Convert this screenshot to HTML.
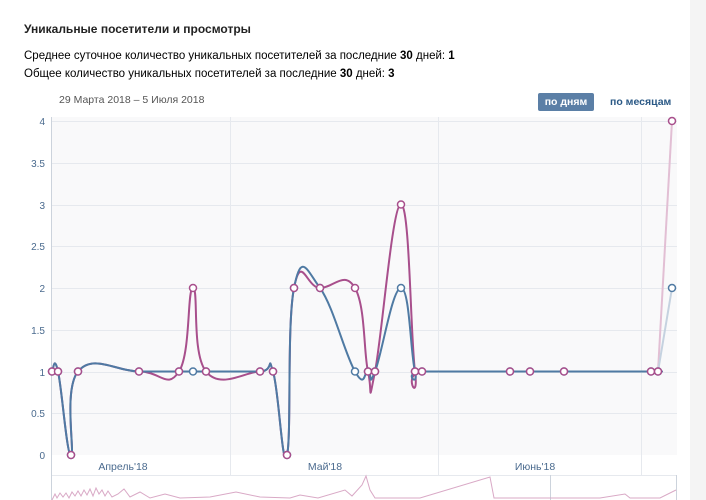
<!DOCTYPE html>
<html><head><meta charset="utf-8"><style>
body{margin:0;width:706px;height:500px;background:#fff;font-family:"Liberation Sans",sans-serif;overflow:hidden;position:relative}
.t{position:absolute;left:24px;top:22px;font-size:12px;font-weight:bold;color:#222}
.s{position:absolute;left:24px;font-size:11.5px;color:#000}
.d{position:absolute;left:59px;top:94px;font-size:10.5px;color:#555}
.b1{position:absolute;left:538px;top:93px;width:56px;height:18px;background:#5b7fa6;color:#fff;font-size:10.5px;font-weight:bold;text-align:center;line-height:18px;border-radius:2px}
.b2{position:absolute;left:610px;top:96px;font-size:10.5px;font-weight:bold;color:#2a5885}
</style></head><body>
<div class="t">Уникальные посетители и просмотры</div>
<div class="s" style="top:50px">Среднее суточное количество уникальных посетителей за последние <b>30</b> дней: <b>1</b></div>
<div class="s" style="top:68px">Общее количество уникальных посетителей за последние <b>30</b> дней: <b>3</b></div>
<div class="d">29 Марта 2018 – 5 Июля 2018</div>
<div class="b1">по дням</div>
<div class="b2">по месяцам</div>
<svg width="706" height="500" style="position:absolute;left:0;top:0" id="s">
<rect x="690" y="0" width="16" height="500" fill="#f4f4f4"/>
<rect x="51" y="117" width="626" height="338" fill="#f9f9fa"/>
<g stroke="#e6e9ee" stroke-width="1">
<line x1="51" x2="677" y1="121.5" y2="121.5"/><line x1="51" x2="677" y1="163.5" y2="163.5"/><line x1="51" x2="677" y1="205.5" y2="205.5"/><line x1="51" x2="677" y1="246.5" y2="246.5"/><line x1="51" x2="677" y1="288.5" y2="288.5"/><line x1="51" x2="677" y1="330.5" y2="330.5"/><line x1="51" x2="677" y1="372.5" y2="372.5"/><line x1="51" x2="677" y1="413.5" y2="413.5"/>
<line x1="230.5" x2="230.5" y1="117" y2="475"/><line x1="438.5" x2="438.5" y1="117" y2="475"/><line x1="641.5" x2="641.5" y1="117" y2="475"/>
<line x1="51" x2="677" y1="475.5" y2="475.5"/>
</g>
<line x1="51.5" x2="51.5" y1="117" y2="500" stroke="#ccd3dc"/>
<line x1="676.5" x2="676.5" y1="475" y2="500" stroke="#ccd3dc"/>
<line x1="550.5" x2="550.5" y1="475" y2="500" stroke="#ccd3dc"/>
<g font-size="10" fill="#4a6a8e" text-anchor="end" font-family="Liberation Sans,sans-serif">
<text x="45" y="125">4</text><text x="45" y="167">3.5</text><text x="45" y="209">3</text><text x="45" y="250">2.5</text><text x="45" y="292">2</text><text x="45" y="334">1.5</text><text x="45" y="376">1</text><text x="45" y="417">0.5</text><text x="45" y="459">0</text>
</g>
<g font-size="10.5" fill="#4a6a8e" text-anchor="middle" font-family="Liberation Sans,sans-serif">
<text x="123" y="470">Апрель'18</text><text x="325" y="470">Май'18</text><text x="535" y="470">Июнь'18</text>
</g>
<polyline points="52,500 55,494 57,498 60,493 63,497 66,493 69,498 72,492 75,496 78,491 81,496 84,490 87,495 90,489 93,496 96,488 99,494 102,490 105,496 108,491 112,497 118,494 124,489 130,497 140,492 150,498 165,494 180,498 210,497 236,492 260,497 290,498 300,495 318,498 345,490 352,496 362,485 366,476 370,490 375,498 400,498 420,498 490,477 494,498 560,498 600,498 625,494 630,498 660,498 676,490" fill="none" stroke="#d9a9c6" stroke-width="1"/>
<path id="pp" fill="none" stroke="#a84f8c" stroke-width="2"/>
<path id="bp" fill="none" stroke="#4f7aa3" stroke-width="2"/>
<line x1="658" y1="371.5" x2="672" y2="121" stroke="#e2bfd4" stroke-width="2"/>
<line x1="658" y1="371.5" x2="672" y2="288" stroke="#c5d2e0" stroke-width="2"/>
<g id="pts"></g>
</svg>
<script>
function Y(v){return 455-83.5*v}
var P=[[52,1],[58,1],[71,0],[78,1],[139,1],[179,1],[193,2],[206,1],[260,1],[273,1],[287,0],[294,2],[320,2],[355,2],[368,1],[375,1],[401,3],[415,1],[422,1],[510,1],[530,1],[564,1],[651,1],[658,1]];
var B=[[52,1],[58,1],[71,0],[78,1],[139,1],[179,1],[193,1],[206,1],[260,1],[273,1],[287,0],[294,2],[320,2],[355,1],[368,1],[375,1],[401,2],[415,1],[422,1],[510,1],[530,1],[564,1],[651,1],[658,1]];
function path(a){var p=a.map(function(q){return[q[0],Y(q[1])]});var d="M"+p[0][0]+","+p[0][1];
for(var i=0;i<p.length-1;i++){var p0=p[Math.max(0,i-1)],p1=p[i],p2=p[i+1],p3=p[Math.min(p.length-1,i+2)];var k=0.22;
d+=" C"+(p1[0]+(p2[0]-p0[0])*k)+","+(p1[1]+(p2[1]-p0[1])*k)+" "+(p2[0]-(p3[0]-p1[0])*k)+","+(p2[1]-(p3[1]-p1[1])*k)+" "+p2[0]+","+p2[1];}return d}
document.getElementById('pp').setAttribute('d',path(P));
document.getElementById('bp').setAttribute('d',path(B));
var g=document.getElementById('pts'),h="";
B.concat([[672,2]]).forEach(function(q){h+='<circle cx="'+q[0]+'" cy="'+Y(q[1])+'" r="3.5" fill="#fff" stroke="#4f7aa3" stroke-width="1.5"/>'});
P.concat([[672,4]]).forEach(function(q){h+='<circle cx="'+q[0]+'" cy="'+Y(q[1])+'" r="3.5" fill="#fff" stroke="#a84f8c" stroke-width="1.5"/>'});
g.innerHTML=h;
</script>
</body></html>
